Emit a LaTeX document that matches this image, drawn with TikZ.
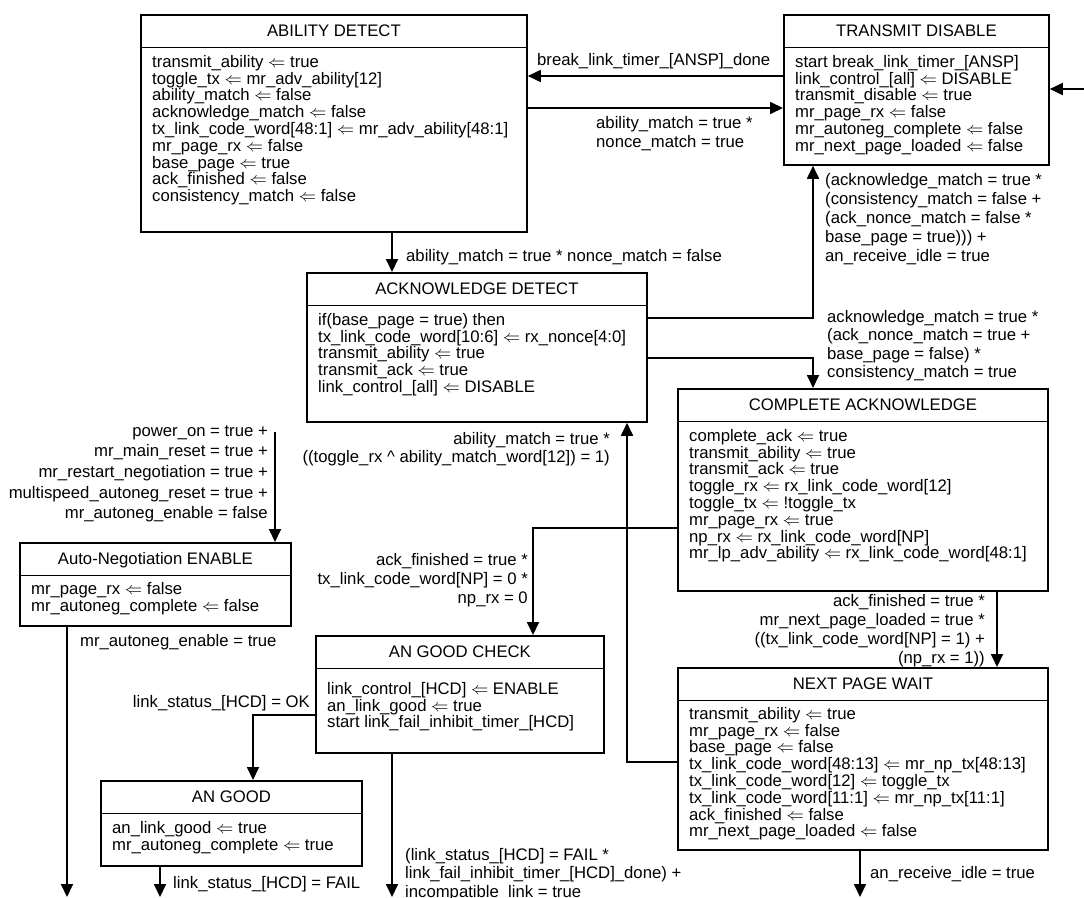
\documentclass[tikz,border=0pt]{standalone}
\usepackage{fontspec}
\setmainfont{Liberation Sans}
\usetikzlibrary{arrows.meta}
\newcommand{\myarr}{\ensuremath{\Leftarrow}}
\newcommand{\fs}{\fontsize{16.7}{16.8}\selectfont}
\newcommand{\fsl}{\fontsize{16.7}{19}\selectfont}
\tikzset{
  box/.style={draw, line width=1.8pt, rectangle, inner sep=0pt},
  sepline/.style={line width=1.8pt},
  arr/.style={line width=1.8pt, -{Triangle[length=13pt,width=12pt]}},
  titletext/.style={anchor=base, inner sep=0pt, font=\fs},
  bodytext/.style={anchor=north west, inner sep=0pt, align=left, font=\fs},
  lbl/.style={inner sep=0pt, font=\fsl},
}
% #1 name, #2 x, #3 y, #4 w, #5 h, #6 title, #7 body top y, #8 body
\newcommand{\statebox}[8]{%
  \node[box, minimum width=#4, minimum height=#5, anchor=north west] (#1) at (#2,#3) {};
  \draw[sepline] ([yshift=-33.5]#1.north west) -- ([yshift=-33.5]#1.north east);
  \node[titletext] (#1-t) at ([yshift=-22.8]#1.north) {#6};
  \node[bodytext] (#1-b) at (#2+12,#7) {#8};
}
\begin{document}
\begin{tikzpicture}[x=1pt,y=-1pt]
\fill[white] (0,0) rectangle (1084,897);
\useasboundingbox (0,0) rectangle (1084,897);

\statebox{ad}{140}{14}{386}{217}{ABILITY DETECT}{55}{%
transmit\_ability \myarr{} true\\
toggle\_tx \myarr{} mr\_adv\_ability[12]\\
ability\_match \myarr{} false\\
acknowledge\_match \myarr{} false\\
tx\_link\_code\_word[48:1] \myarr{} mr\_adv\_ability[48:1]\\
mr\_page\_rx \myarr{} false\\
base\_page \myarr{} true\\
ack\_finished \myarr{} false\\
consistency\_match \myarr{} false}

\statebox{td}{783}{14}{265}{150}{TRANSMIT DISABLE}{55}{%
start break\_link\_timer\_[ANSP]\\
link\_control\_[all] \myarr{} DISABLE\\
transmit\_disable \myarr{} true\\
mr\_page\_rx \myarr{} false\\
mr\_autoneg\_complete \myarr{} false\\
mr\_next\_page\_loaded \myarr{} false}

\statebox{akd}{306}{272}{340}{149}{ACKNOWLEDGE DETECT}{313}{%
if(base\_page = true) then\\
tx\_link\_code\_word[10:6] \myarr{} rx\_nonce[4:0]\\
transmit\_ability \myarr{} true\\
transmit\_ack \myarr{} true\\
link\_control\_[all] \myarr{} DISABLE}

\statebox{ca}{677}{388}{370}{202}{COMPLETE ACKNOWLEDGE}{429}{%
complete\_ack \myarr{} true\\
transmit\_ability \myarr{} true\\
transmit\_ack \myarr{} true\\
toggle\_rx \myarr{} rx\_link\_code\_word[12]\\
toggle\_tx \myarr{} !toggle\_tx\\
mr\_page\_rx \myarr{} true\\
np\_rx \myarr{} rx\_link\_code\_word[NP]\\
mr\_lp\_adv\_ability \myarr{} rx\_link\_code\_word[48:1]}

\statebox{npw}{677}{667}{370}{182}{NEXT PAGE WAIT}{707}{%
transmit\_ability \myarr{} true\\
mr\_page\_rx \myarr{} false\\
base\_page \myarr{} false\\
tx\_link\_code\_word[48:13] \myarr{} mr\_np\_tx[48:13]\\
tx\_link\_code\_word[12] \myarr{} toggle\_tx\\
tx\_link\_code\_word[11:1] \myarr{} mr\_np\_tx[11:1]\\
ack\_finished \myarr{} false\\
mr\_next\_page\_loaded \myarr{} false}

\statebox{ane}{19}{542}{271}{83}{Auto-Negotiation ENABLE}{582}{%
mr\_page\_rx \myarr{} false\\
mr\_autoneg\_complete \myarr{} false}

\statebox{agc}{315}{635}{288}{117}{AN GOOD CHECK}{682}{%
link\_control\_[HCD] \myarr{} ENABLE\\
an\_link\_good \myarr{} true\\
start link\_fail\_inhibit\_timer\_[HCD]}

\statebox{ag}{100}{780}{261}{85}{AN GOOD}{821}{%
an\_link\_good \myarr{} true\\
mr\_autoneg\_complete \myarr{} true}

% free ends
\coordinate (rin) at (1084,89);
\coordinate (pin) at (275,432);
\coordinate (e1) at (67,897);
\coordinate (e2) at (160,897);
\coordinate (e3) at (392,897);
\coordinate (e4) at (860,897);

% connectors
\draw[arr] (td.west |- 0,76) -- (ad.east |- 0,76);
\draw[arr] (ad.east |- 0,108) -- (td.west |- 0,108);
\draw[arr] (rin) -- (td.east |- rin);
\draw[arr] (ad.south -| 392,0) -- (akd.north -| 392,0);
\draw[arr] (akd.east |- 0,318) -| (td.south -| 813,0);
\draw[arr] (akd.east |- 0,358) -| (ca.north -| 813,0);
\draw[arr] (ca.west |- 0,528) -| (agc.north -| 533,0);
\draw[arr] (ca.south -| 997,0) -- (npw.north -| 997,0);
\draw[arr] (npw.west |- 0,762) -| (akd.south -| 627,0);
\draw[arr] (npw.south -| e4) -- (e4);
\draw[arr] (pin) -- (ane.north -| pin);
\draw[arr] (ane.south -| e1) -- (e1);
\draw[arr] (agc.west |- 0,715) -| (ag.north -| 253,0);
\draw[arr] (ag.south -| e2) -- (e2);
\draw[arr] (agc.south -| e3) -- (e3);

% labels
\node[lbl, anchor=base west] (l1) at (537,65) {break\_link\_timer\_[ANSP]\_done};
\node[lbl, anchor=north west, align=left] (l2) at (596,116) {ability\_match = true *\\nonce\_match = true};
\node[lbl, anchor=base west] (l3) at (406,261) {ability\_match = true * nonce\_match = false};
\node[lbl, anchor=north west, align=left] (l4) at (825,173) {(acknowledge\_match = true *\\(consistency\_match = false +\\(ack\_nonce\_match = false *\\base\_page = true))) +\\an\_receive\_idle = true};
\node[lbl, anchor=north west, align=left, font=\fontsize{16.7}{18.4}\selectfont] (l5) at (827,310) {acknowledge\_match = true *\\(ack\_nonce\_match = true +\\base\_page = false) *\\consistency\_match = true};
\node[lbl, anchor=north east, align=right, font=\fontsize{16.7}{18}\selectfont] (l6) at (610,432) {ability\_match = true *\\((toggle\_rx \textasciicircum{} ability\_match\_word[12]) = 1)};
\node[lbl, anchor=north east, align=right, font=\fontsize{16.7}{20.7}\selectfont] (l7) at (268,425) {power\_on = true +\\mr\_main\_reset = true +\\mr\_restart\_negotiation = true +\\multispeed\_autoneg\_reset = true +\\mr\_autoneg\_enable = false};
\node[lbl, anchor=base west] (l8) at (80,646) {mr\_autoneg\_enable = true};
\node[lbl, anchor=north east, align=right] (l9) at (528,553) {ack\_finished = true *\\tx\_link\_code\_word[NP] = 0 *\\np\_rx = 0};
\node[lbl, anchor=north east, align=right] (l10) at (985,594) {ack\_finished = true *\\mr\_next\_page\_loaded = true *\\((tx\_link\_code\_word[NP] = 1) +\\(np\_rx = 1))};
\node[lbl, anchor=base east] (l11) at (310,707) {link\_status\_[HCD] = OK};
\node[lbl, anchor=base west] (l12) at (173,888) {link\_status\_[HCD] = FAIL};
\node[lbl, anchor=north west, align=left, font=\fontsize{16.7}{18.5}\selectfont] (l13) at (405,848) {(link\_status\_[HCD] = FAIL *\\link\_fail\_inhibit\_timer\_[HCD]\_done) +\\incompatible\_link = true};
\node[lbl, anchor=base west] (l14) at (870,878) {an\_receive\_idle = true};
\end{tikzpicture}
\end{document}
